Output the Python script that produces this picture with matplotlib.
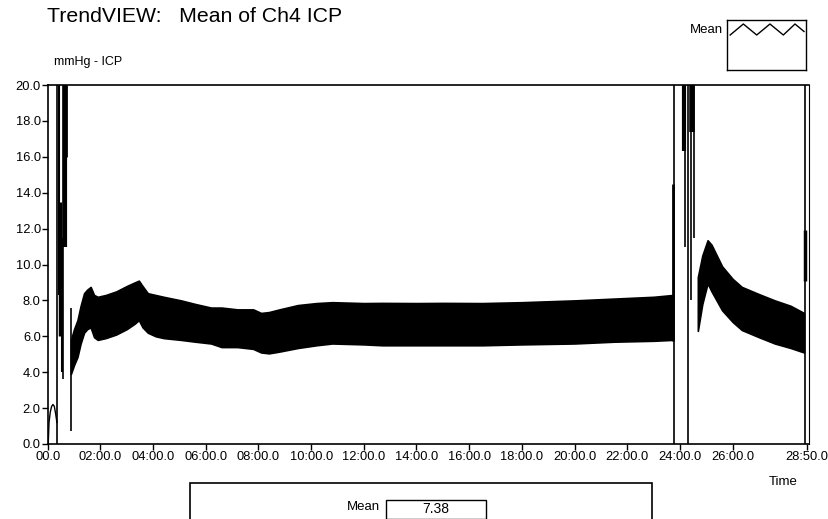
import matplotlib
matplotlib.use('Agg')
import matplotlib.pyplot as plt
from matplotlib.patches import Rectangle

plt.rcParams['font.family'] = ['Liberation Sans', 'DejaVu Sans']

# envelope of the ICP trace (minutes, mmHg) - first stable segment
band1_t = [0.88, 1.0, 1.13, 1.25, 1.38, 1.5, 1.63, 1.76, 1.9, 2.2, 2.6, 3.0, 3.3, 3.46,
           3.6, 3.8, 4.1, 4.4, 5.06, 5.6, 6.2, 6.6, 7.2, 7.8, 8.1, 8.4, 8.8, 9.5, 10.2,
           10.8, 12.0, 12.7, 14.0, 15.0, 16.5, 18.0, 20.0, 21.5, 23.0, 23.72]
band1_top = [5.8, 6.4, 6.9, 7.7, 8.4, 8.6, 8.75, 8.3, 8.2, 8.3, 8.5, 8.8, 9.0, 9.1,
             8.8, 8.4, 8.3, 8.2, 8.0, 7.8, 7.6, 7.6, 7.5, 7.5, 7.3, 7.35, 7.5, 7.74, 7.85,
             7.9, 7.85, 7.86, 7.85, 7.86, 7.85, 7.9, 8.0, 8.1, 8.2, 8.3]
band1_low = [3.9, 4.4, 4.85, 5.6, 6.2, 6.4, 6.5, 5.95, 5.8, 5.9, 6.1, 6.4, 6.7, 6.9,
             6.5, 6.2, 6.0, 5.9, 5.8, 5.7, 5.6, 5.4, 5.4, 5.3, 5.1, 5.05, 5.15, 5.35, 5.5,
             5.6, 5.55, 5.5, 5.5, 5.5, 5.5, 5.55, 5.6, 5.7, 5.75, 5.8]

# second segment after the disturbance at ~24 min
band2_t = [24.68, 24.85, 25.05, 25.2, 25.6, 26.0, 26.35, 27.0, 27.6, 28.2, 28.71]
band2_top = [9.3, 10.5, 11.35, 11.1, 9.9, 9.2, 8.75, 8.35, 8.0, 7.7, 7.3]
band2_low = [6.3, 7.8, 8.95, 8.5, 7.45, 6.8, 6.35, 5.95, 5.6, 5.35, 5.1]

# small initial arc
arc_t = [0.02, 0.05, 0.1, 0.15, 0.2, 0.25, 0.3, 0.35]
arc_v = [0.0, 1.2, 1.8, 2.1, 2.2, 2.1, 1.7, 1.2]

# artefact spikes: time, low, high
spike_t = [0.37, 0.43, 0.47, 0.53, 0.59, 0.66, 0.70, 0.89,
           23.73, 23.79, 24.17, 24.19, 24.30, 24.43, 24.47, 24.55,
           28.74, 28.76]
spike_lo = [0.0, 8.3, 6.0, 4.0, 3.6, 11.0, 16.0, 0.7,
            5.75, 0.0, 16.3, 11.0, 0.0, 8.0, 17.4, 11.5,
            0.0, 9.1]
spike_hi = [20.0, 20.0, 13.5, 11.5, 20.0, 20.0, 20.0, 7.6,
            14.5, 20.0, 20.0, 20.0, 20.0, 20.0, 20.0, 20.0,
            20.0, 11.9]

tick_pos = [0, 2, 4, 6, 8, 10, 12, 14, 16, 18, 20, 22, 24, 26, 28 + 50 / 60]
tick_labels = ['00.0', '02:00.0', '04:00.0', '06:00.0', '08:00.0', '10:00.0', '12:00.0',
               '14:00.0', '16:00.0', '18:00.0', '20:00.0', '22:00.0', '24:00.0',
               '26:00.0', '28:50.0']
y_ticks = [0, 2, 4, 6, 8, 10, 12, 14, 16, 18, 20]
mean_value = 7.38

W, H = 829, 519
fig = plt.figure(figsize=(W / 100, H / 100), dpi=100)
ax = fig.add_axes([47.7 / W, 1 - 444 / H, (809 - 47.7) / W, (444 - 85) / H])

ax.fill_between(band1_t, band1_low, band1_top, color='black', lw=1.2)
ax.fill_between(band2_t, band2_low, band2_top, color='black', lw=1.2)
ax.plot(arc_t, arc_v, color='black', lw=1.0)
spike_lw = [1.2, 1.5, 2.5, 1.5, 1.2, 3.0, 2.0, 1.2,
            2.0, 1.2, 3.0, 1.2, 1.2, 1.2, 4.0, 1.2,
            1.2, 2.5]
ax.vlines(spike_t, spike_lo, spike_hi, colors='black', linewidths=spike_lw)

ax.set_xlim(0, 28.9)
ax.set_ylim(0, 20)
ax.set_xticks(tick_pos)
ax.set_xticklabels(tick_labels)
ax.set_yticks(y_ticks)
ax.set_yticklabels(['%.1f' % v for v in y_ticks])
ax.tick_params(axis='both', direction='out', length=4, width=1, labelsize=9.3, pad=1)
for s in ax.spines.values():
    s.set_linewidth(1.2)
ax.spines['right'].set_linewidth(0.8)

# titles and labels
fig.text(47 / W, 1 - 17 / H, 'TrendVIEW:   Mean of Ch4 ICP', fontsize=15.3, va='center', ha='left')
fig.text(54 / W, 1 - 62 / H, 'mmHg - ICP', fontsize=9, va='center', ha='left')
fig.text(783 / W, 1 - 482 / H, 'Time', fontsize=9.5, va='center', ha='center')

# legend box top right
leg = fig.add_axes([727 / W, 1 - 70 / H, 79 / W, 50 / H])
leg.set_xlim(0, 1)
leg.set_ylim(0, 1)
leg.set_xticks([])
leg.set_yticks([])
for s in leg.spines.values():
    s.set_linewidth(1.0)
zig_x = [0.04, 0.207, 0.376, 0.544, 0.713, 0.861, 0.975]
zig_y = [0.70, 0.92, 0.70, 0.92, 0.70, 0.92, 0.77]
leg.plot(zig_x, zig_y, color='black', lw=1.0)
fig.text(723 / W, 1 - 30 / H, 'Mean', fontsize=9.5, va='center', ha='right')

# summary box at bottom
fig.add_artist(Rectangle((190 / W, -0.05), (652 - 190) / W, 0.05 + 1 - 483 / H,
                         transform=fig.transFigure, fill=False, lw=1.2, ec='black'))
fig.add_artist(Rectangle((386.5 / W, 1 - 518.5 / H), (486 - 386.5) / W, 19 / H,
                         transform=fig.transFigure, fill=False, lw=1.0, ec='black'))
fig.text(380 / W, 1 - 507 / H, 'Mean', fontsize=9.5, va='center', ha='right')
fig.text(436 / W, 1 - 509 / H, '%.2f' % mean_value, fontsize=10, va='center', ha='center')

fig.savefig('out.png', dpi=100)
